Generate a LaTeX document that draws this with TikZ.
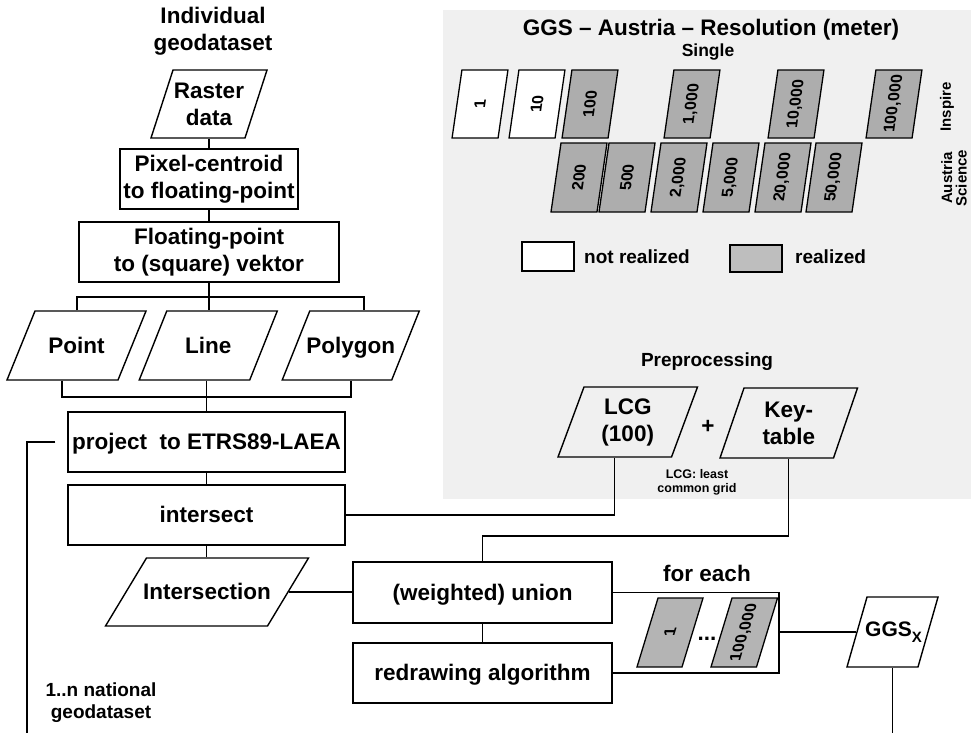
\documentclass[tikz,border=0pt]{standalone}
\usepackage{fontspec}
\setmainfont{Liberation Sans}
\usepackage{graphicx}
\definecolor{panelgray}{RGB}{240,240,240}
\definecolor{boxgray}{RGB}{173,173,173}
\definecolor{leggray}{RGB}{190,190,190}
\definecolor{fegray}{RGB}{180,180,180}
\begin{document}
\begin{tikzpicture}[x=1pt,y=-1pt,
  every node/.style={font=\fontsize{22.5}{27}\selectfont\bfseries, align=center, inner sep=0pt},
  one/.style={text height=20.4pt, text depth=4.8pt},
  box/.style={draw, line width=1.4pt, fill=white},
  pshape/.style={draw, line width=1.4pt},
  numbox/.style={draw, line width=1.3pt, minimum width=46, minimum height=68, xslant=0.145,
                 font=\fontsize{16}{16}\selectfont\bfseries},
  conn/.style={line width=1.3pt},
  thickconn/.style={line width=2.6pt},
  small/.style={font=\fontsize{19}{22}\selectfont\bfseries},
  tiny/.style={font=\fontsize{12.5}{14}\selectfont\bfseries},
  side/.style={font=\fontsize{15}{14.5}\selectfont\bfseries, rotate=90}
]
\useasboundingbox (0,0) rectangle (971,732);
% background panel
\fill[panelgray] (443,10) rectangle (971,499);

% ---------- left column ----------
\node (indiv) at (213,31.5) {Individual\\geodataset};
\node[pshape, fill=white, xslant=0.324, minimum width=94, minimum height=68] (raster) at (209,104) {};
\node (rastert) at (raster.center) {Raster\\data};
\node[box, minimum width=178, minimum height=60] (pix) at (209,179) {Pixel-centroid\\to floating-point};
\node[box, minimum width=260, minimum height=60] (float) at (209,252) {Floating-point\\to (square) vektor};

\node[pshape, fill=white, xslant=0.406, minimum width=111, minimum height=69] (point) at (76.5,345.5) {};
\node[one] (pointt) at (point.center) {Point};
\node[pshape, fill=white, xslant=0.399, minimum width=110.5, minimum height=69] (line) at (208.25,345.5) {};
\node[one] (linet) at (line.center) {Line};
\node[pshape, fill=white, xslant=0.399, minimum width=109.5, minimum height=69] (polygon) at (350.75,345.5) {};
\node[one] (polygont) at (polygon.center) {Polygon};

\node[box, one, minimum width=277, minimum height=60] (proj) at (206.5,442) {project~ to ETRS89-LAEA};
\node[box, one, minimum width=277, minimum height=60] (inter) at (206.5,515) {intersect};
\node[pshape, fill=white, xslant=0.603, minimum width=162, minimum height=68] (isect) at (207,592) {};
\node[one] (isectt) at (isect.center) {Intersection};
\node[box, one, minimum width=259, minimum height=61] (union) at (482.5,592.5) {(weighted) union};
\node[box, one, minimum width=259, minimum height=60] (redraw) at (482.5,673) {redrawing algorithm};
\node[small] (natl) at (101,703) {1..n national\\geodataset};

% ---------- for each ----------
\node[one] (foreach) at (707,574) {for each};
\node[numbox, fill=fegray, xslant=0.16, minimum width=45, minimum height=69] (fe1) at (670,632.5) {\rotatebox{90}{1}};
\node[one] (dots) at (707,633) {...};
\node[numbox, fill=fegray, xslant=0.16, minimum width=45.5, minimum height=69] (fe2) at (744.25,632.5) {\rotatebox{90}{100,000}};
\node[pshape, fill=white, xslant=0.286, minimum width=71, minimum height=70] (ggs) at (892.5,632) {};
\node[font=\fontsize{21}{24}\selectfont\bfseries] (ggst) at ([xshift=1pt]ggs.center) {GGS\raisebox{-0.3em}{\fontsize{15}{15}\selectfont X}};

% ---------- panel ----------
\node (ggstitle) at (711,30) {GGS -- Austria -- Resolution (meter)};
\node[font=\fontsize{17.5}{20}\selectfont\bfseries] (single) at (708,52) {Single};

\node[numbox, fill=white] (r1) at (480,104) {\rotatebox{90}{1}};
\node[numbox, fill=white] (r10) at (537,104) {\rotatebox{90}{10}};
\node[numbox, fill=boxgray] (r100) at (590,104) {\rotatebox{90}{100}};
\node[numbox, fill=boxgray] (r1000) at (692,104) {\rotatebox{90}{1,000}};
\node[numbox, fill=boxgray] (r10000) at (796,104) {\rotatebox{90}{10,000}};
\node[numbox, fill=boxgray] (r100000) at (894,104) {\rotatebox{90}{100,000}};

\node[numbox, fill=boxgray, minimum height=69] (r200) at (579,177.5) {\rotatebox{90}{200}};
\node[numbox, fill=boxgray, minimum height=69] (r500) at (627,177.5) {\rotatebox{90}{500}};
\node[numbox, fill=boxgray, minimum height=69] (r2000) at (679,177.5) {\rotatebox{90}{2,000}};
\node[numbox, fill=boxgray, minimum height=69] (r5000) at (731,177.5) {\rotatebox{90}{5,000}};
\node[numbox, fill=boxgray, minimum height=69] (r20000) at (783,177.5) {\rotatebox{90}{20,000}};
\node[numbox, fill=boxgray, minimum height=69] (r50000) at (834,177.5) {\rotatebox{90}{50,000}};

\node[side] (inspire) at (947,107) {Inspire};
\node[side] (austria) at (954,178) {Austria\\Science};

\node[draw, line width=1.2pt, fill=white, minimum width=52, minimum height=29] (legw) at (548,256.5) {};
\node[small, anchor=west] (legwt) at (584,257) {not realized};
\node[draw, line width=1.2pt, fill=leggray, minimum width=52, minimum height=27] (legg) at (756,258.5) {};
\node[small, anchor=west] (leggt) at (795,257) {realized};

\node[small] (prep) at (707,362) {Preprocessing};
\node[pshape, xslant=0.371, minimum width=113.5, minimum height=70] (lcg) at (627.75,422) {};
\node (lcgt) at (lcg.center) {LCG\\(100)};
\node (plus) at (708,427) {+};
\node[pshape, xslant=0.343, minimum width=113.5, minimum height=70] (key) at (788.75,423) {};
\node (keyt) at (key.center) {Key-\\table};
\node[tiny] (lcgnote) at (697,482) {LCG: least\\common grid};

% ---------- connectors ----------
\coordinate (bL) at (77,297);
\coordinate (bR) at (364,297);
\coordinate (cL) at (62,397);
\coordinate (cR) at (351,397);
\coordinate (kc) at (482.5,536);
\coordinate (fe) at (779,592.5);
\coordinate (gend) at (892.5,735);
\coordinate (natend) at (27,735);

\draw[conn] (pix.north |- raster.south) -- (pix.north);
\draw[conn] (pix.south) -- (float.north);
\draw[thickconn] (float.south) -- (float.south |- bL);
\draw[conn] (bL |- point.north) -- (bL) -- (bR) -- (bR |- polygon.north);
\draw[conn] (float.south |- bL) -- (float.south |- line.north);
\draw[conn] (cL |- point.south) -- (cL) -- (cR) -- (cR |- polygon.south);
\draw[conn] (proj.north |- line.south) -- (proj.north);
\draw[conn] (proj.south) -- (inter.north);
\draw[conn] (inter.south) -- (inter.south |- isect.north);
\draw[conn] (isect.east) -- (isect.east -| union.west);
\draw[conn] (inter.east) -| (lcg.south);
\draw[conn] (key.center |- key.south) |- (kc) -- (union.north);
\draw[conn] (union.south) -- (redraw.north);
\draw[conn] (union.east) -- (fe) |- (redraw.east);
\draw[conn] (ggs.west) -- (ggs.west -| fe);
\draw[conn] (ggs.center |- ggs.south) -- (gend);
\draw[conn] ([xshift=-12pt]proj.west) -- (natend |- proj.west) -- (natend);
\end{tikzpicture}
\end{document}
